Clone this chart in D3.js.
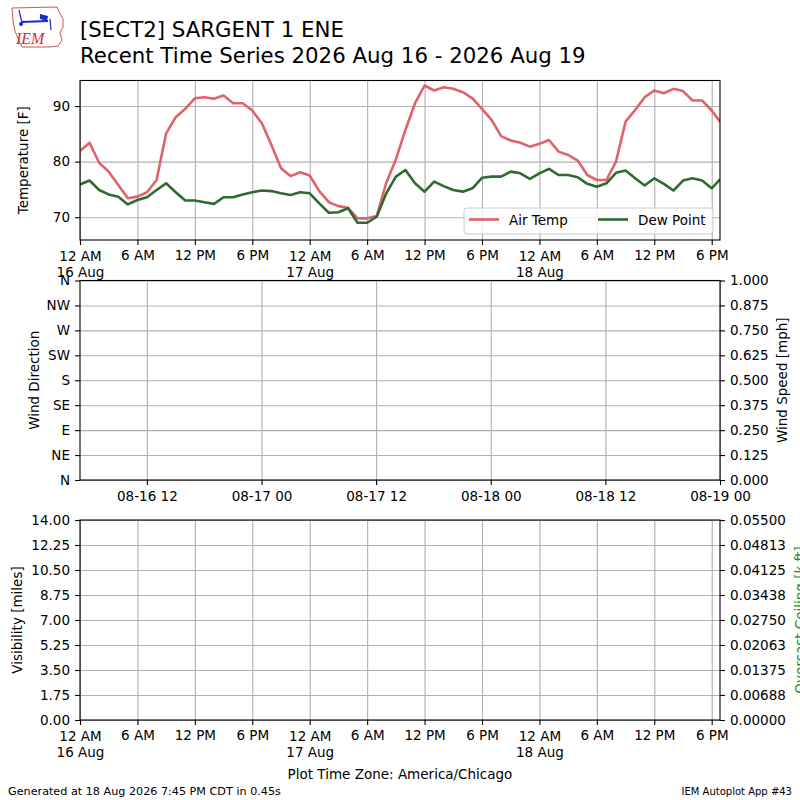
<!DOCTYPE html>
<html>
<head>
<meta charset="utf-8">
<script src="https://cdn.jsdelivr.net/npm/d3@7"></script>
<style>
body { margin: 0; background: #fff; }
svg { font-family: "DejaVu Sans", sans-serif; }
</style>
</head>
<body>
<svg id="chart" width="800" height="800"></svg>
<script>
// hourly obs starting 16 Aug 2026 00:00, last one at 18:52 on 18 Aug
const airTemp = [81.9, 83.4, 79.8, 78.2, 75.8, 73.4, 73.7, 74.5, 76.7, 85.1, 88.0, 89.5,
    91.4, 91.6, 91.3, 91.9, 90.5, 90.5, 89.2, 86.9, 83.0, 78.8, 77.4, 78.1,
    77.5, 74.7, 72.7, 72.0, 71.7, 69.8, 69.8, 70.2, 76.2, 80.4, 85.7, 90.5,
    93.7, 92.8, 93.4, 93.1, 92.5, 91.4, 89.5, 87.5, 84.6, 83.8, 83.4, 82.7,
    83.2, 83.9, 81.8, 81.2, 80.2, 77.6, 76.7, 76.7, 80.0, 87.2, 89.3, 91.6,
    92.8, 92.3, 93.1, 92.7, 91.0, 91.0, 89.2, 87.2];
const dewPoint = [75.9, 76.6, 74.9, 74.1, 73.7, 72.3, 73.1, 73.6, 74.9, 76.1, 74.5, 73.0,
    73.0, 72.7, 72.4, 73.6, 73.6, 74.1, 74.5, 74.8, 74.7, 74.3, 74.0, 74.5,
    74.3, 72.5, 70.8, 70.9, 71.6, 69.0, 69.0, 70.1, 74.3, 77.3, 78.5, 76.1,
    74.6, 76.4, 75.6, 74.9, 74.6, 75.2, 77.1, 77.3, 77.3, 78.2, 77.9, 76.9,
    77.9, 78.7, 77.6, 77.6, 77.2, 76.0, 75.5, 76.1, 78.0, 78.4, 77.0, 75.7,
    77.0, 76.0, 74.8, 76.6, 77.0, 76.6, 75.2, 76.8];
const obsStart = new Date(2026, 7, 16, 0, 0);
const lastObs = new Date(2026, 7, 18, 18, 52);
const tempTicks = [70, 80, 90];
const dirLabels = ["N", "NE", "E", "SE", "S", "SW", "W", "NW", "N"];
const speedTicks = ["0.000", "0.125", "0.250", "0.375", "0.500", "0.625", "0.750", "0.875", "1.000"];
const visTicks = ["0.00", "1.75", "3.50", "5.25", "7.00", "8.75", "10.50", "12.25", "14.00"];
const ceilTicks = ["0.00000", "0.00688", "0.01375", "0.02063", "0.02750", "0.03438", "0.04125", "0.04813", "0.05500"];
const windStart = new Date(2026, 7, 16, 5, 0);
const windEnd = new Date(2026, 7, 19, 0, 0);

const times = airTemp.map((d, i) => i === airTemp.length - 1 ? lastObs : d3.timeHour.offset(obsStart, i));
const obs = times.map((t, i) => ({ t: t, air: airTemp[i], dew: dewPoint[i] }));

const svg = d3.select("#chart");
const FS = 13.5;
const GRID = "#b0b0b0";
const left = 80, right = 720;

// ---------- header ----------
const logo = svg.append("g").attr("class", "logo");
logo.append("path")
    .attr("d", "M12,8 L57,7 L59,12 L63,19 L63,27 L60,33 L62,40 L58,46 L50,47 L22,47 L19,41 L15,31 L13,21 Z")
    .attr("fill", "none").attr("stroke", "#d04040").attr("stroke-width", 0.9);
logo.append("line").attr("x1", 22).attr("y1", 22).attr("x2", 48).attr("y2", 21)
    .attr("stroke", "#1a2ad0").attr("stroke-width", 2);
logo.append("path").attr("d", "M40,14 L48,16 L47,21 L40,19 Z").attr("fill", "#1a2ad0");
logo.append("line").attr("x1", 19).attr("y1", 10).attr("x2", 22).attr("y2", 23)
    .attr("stroke", "#1a2ad0").attr("stroke-width", 1.2);
logo.append("line").attr("x1", 50).attr("y1", 19).attr("x2", 51).attr("y2", 30)
    .attr("stroke", "#1a2ad0").attr("stroke-width", 1.2);
logo.append("circle").attr("cx", 21).attr("cy", 24).attr("r", 2).attr("fill", "#1a2ad0");
logo.append("text").attr("x", 16).attr("y", 44)
    .attr("font-family", "Liberation Serif").attr("font-style", "italic")
    .attr("font-size", 16).attr("fill", "#d03030").text("IEM");

svg.append("text").attr("x", 80).attr("y", 37).attr("font-size", 21.3)
    .text("[SECT2] SARGENT 1 ENE");
svg.append("text").attr("x", 80).attr("y", 63).attr("font-size", 21.3)
    .text("Recent Time Series 2026 Aug 16 - 2026 Aug 19");

// ---------- helpers ----------
const hourFmt = d3.timeFormat("%-I %p"),
    dayFmt = d3.timeFormat("%d %b");

function timeTickLabels(g) {
    g.selectAll(".tick text").each(function (d) {
        const t = d3.select(this);
        t.text(null);
        if (d.getHours() === 0) {
            t.append("tspan").attr("x", 0).attr("dy", "0.71em").attr("y", 11.5).text(hourFmt(d));
            t.append("tspan").attr("x", 0).attr("dy", "1.2em").text(dayFmt(d));
        } else {
            t.append("tspan").attr("x", 0).attr("y", 10).attr("dy", "0.71em").text(hourFmt(d));
        }
    });
}

function styleAxis(g) {
    g.select(".domain").remove();
    g.selectAll(".tick line").attr("stroke", "#000").attr("stroke-width", 1.1);
    g.selectAll(".tick text").attr("font-size", FS).attr("fill", "#000").attr("font-family", "DejaVu Sans");
}

function frame(top, bottom) {
    svg.append("rect").attr("x", left).attr("y", top)
        .attr("width", right - left).attr("height", bottom - top)
        .attr("fill", "none").attr("stroke", "#000").attr("stroke-width", 1.1);
}

function yLabel(text, x, y, color) {
    svg.append("text")
        .attr("transform", `translate(${x}, ${y}) rotate(-90)`)
        .attr("text-anchor", "middle")
        .attr("font-size", FS)
        .attr("fill", color || "#000")
        .text(text);
}

// ---------- panel 1: temperature ----------
const t1 = 80.5, b1 = 240;
const xTime = d3.scaleTime().domain([obsStart, lastObs]).range([left, right]);
const yTemp = d3.scaleLinear().domain([65.9, 94.6]).range([b1, t1]);
const tickTimes = d3.timeHour.every(6).range(obsStart, lastObs);

svg.append("g").attr("transform", `translate(0, ${b1})`)
    .call(d3.axisBottom(xTime).tickValues(tickTimes).tickSize(-(b1 - t1)).tickFormat(""))
    .call(g => g.select(".domain").remove())
    .call(g => g.selectAll(".tick line").attr("stroke", GRID).attr("stroke-width", 1.1));
svg.append("g").attr("transform", `translate(${left}, 0)`)
    .call(d3.axisLeft(yTemp).tickValues(tempTicks).tickSize(-(right - left)).tickFormat(""))
    .call(g => g.select(".domain").remove())
    .call(g => g.selectAll(".tick line").attr("stroke", GRID).attr("stroke-width", 1.1));

svg.append("defs").append("clipPath").attr("id", "clip1")
    .append("rect").attr("x", left).attr("y", t1).attr("width", right - left).attr("height", b1 - t1);

const lineAir = d3.line().x(d => xTime(d.t)).y(d => yTemp(d.air));
const lineDew = d3.line().x(d => xTime(d.t)).y(d => yTemp(d.dew));
const content = svg.append("g").attr("clip-path", "url(#clip1)");
content.append("path").datum(obs).attr("d", lineAir)
    .attr("fill", "none").attr("stroke", "#e0636b").attr("stroke-width", 2.6).attr("stroke-linejoin", "round");
content.append("path").datum(obs).attr("d", lineDew)
    .attr("fill", "none").attr("stroke", "#2f6a30").attr("stroke-width", 2.6).attr("stroke-linejoin", "round");

svg.append("g").attr("transform", `translate(0, ${b1})`)
    .call(d3.axisBottom(xTime).tickValues(tickTimes).tickSize(5))
    .call(styleAxis).call(timeTickLabels);
svg.append("g").attr("transform", `translate(${left}, 0)`)
    .call(d3.axisLeft(yTemp).tickValues(tempTicks).tickSize(5).tickPadding(5))
    .call(styleAxis);
frame(t1, b1);
yLabel("Temperature [F]", 28, (t1 + b1) / 2);

// legend
const leg = svg.append("g").attr("transform", "translate(464, 208)");
leg.append("rect").attr("width", 249).attr("height", 26).attr("rx", 3)
    .attr("fill", "#fff").attr("fill-opacity", 0.8).attr("stroke", "#cccccc");
[["Air Temp", "#e0636b", 5], ["Dew Point", "#2f6a30", 134]].forEach(([name, c, x0]) => {
    leg.append("line").attr("x1", x0).attr("x2", x0 + 30).attr("y1", 11.5).attr("y2", 11.5)
        .attr("stroke", c).attr("stroke-width", 2.6);
    leg.append("text").attr("x", x0 + 40).attr("y", 16.5).attr("font-size", FS).text(name);
});

// ---------- panel 2: wind ----------
const t2 = 280.5, b2 = 480;
const xWind = d3.scaleTime().domain([windStart, windEnd]).range([left, right]);
const yDir = d3.scalePoint().domain(d3.range(dirLabels.length)).range([b2, t2]);
const ySpd = d3.scalePoint().domain(speedTicks).range([b2, t2]);
const windTicks = d3.timeHour.every(12).range(d3.timeHour.offset(windStart, 7), d3.timeHour.offset(windEnd, 1));

svg.append("g").attr("transform", `translate(0, ${b2})`)
    .call(d3.axisBottom(xWind).tickValues(windTicks).tickSize(-(b2 - t2)).tickFormat(""))
    .call(g => g.select(".domain").remove())
    .call(g => g.selectAll(".tick line").attr("stroke", GRID).attr("stroke-width", 1.1));
svg.append("g").attr("transform", `translate(${left}, 0)`)
    .call(d3.axisLeft(yDir).tickSize(-(right - left)).tickFormat(""))
    .call(g => g.select(".domain").remove())
    .call(g => g.selectAll(".tick line").attr("stroke", GRID).attr("stroke-width", 1.1));

svg.append("g").attr("transform", `translate(0, ${b2})`)
    .call(d3.axisBottom(xWind).tickValues(windTicks).tickSize(5).tickPadding(6)
        .tickFormat(d3.timeFormat("%m-%d %H")))
    .call(styleAxis);
svg.append("g").attr("transform", `translate(${left}, 0)`)
    .call(d3.axisLeft(yDir).tickSize(5).tickPadding(5).tickFormat(i => dirLabels[i]))
    .call(styleAxis);
svg.append("g").attr("transform", `translate(${right}, 0)`)
    .call(d3.axisRight(ySpd).tickSize(5).tickPadding(5))
    .call(styleAxis);
frame(t2, b2);
yLabel("Wind Direction", 39, (t2 + b2) / 2);
yLabel("Wind Speed [mph]", 787, (t2 + b2) / 2);

// ---------- panel 3: visibility / ceiling ----------
const t3 = 520, b3 = 720;
const yVis = d3.scalePoint().domain(visTicks).range([b3, t3]);
const yCeil = d3.scalePoint().domain(ceilTicks).range([b3, t3]);

svg.append("g").attr("transform", `translate(0, ${b3})`)
    .call(d3.axisBottom(xTime).tickValues(tickTimes).tickSize(-(b3 - t3)).tickFormat(""))
    .call(g => g.select(".domain").remove())
    .call(g => g.selectAll(".tick line").attr("stroke", GRID).attr("stroke-width", 1.1));
svg.append("g").attr("transform", `translate(${left}, 0)`)
    .call(d3.axisLeft(yVis).tickSize(-(right - left)).tickFormat(""))
    .call(g => g.select(".domain").remove())
    .call(g => g.selectAll(".tick line").attr("stroke", GRID).attr("stroke-width", 1.1));

svg.append("g").attr("transform", `translate(0, ${b3})`)
    .call(d3.axisBottom(xTime).tickValues(tickTimes).tickSize(5))
    .call(styleAxis).call(timeTickLabels);
svg.append("g").attr("transform", `translate(${left}, 0)`)
    .call(d3.axisLeft(yVis).tickSize(5).tickPadding(5))
    .call(styleAxis);
svg.append("g").attr("transform", `translate(${right}, 0)`)
    .call(d3.axisRight(yCeil).tickSize(5).tickPadding(5))
    .call(styleAxis);
frame(t3, b3);
yLabel("Visibility [miles]", 22, (t3 + b3) / 2);
yLabel("Overcast Ceiling [k ft]", 805, (t3 + b3) / 2, "#1a8a1a");

// ---------- footer ----------
svg.append("text").attr("x", 400).attr("y", 779).attr("text-anchor", "middle")
    .attr("font-size", FS).text("Plot Time Zone: America/Chicago");
svg.append("text").attr("x", 8).attr("y", 795).attr("font-size", 11.2)
    .text("Generated at 18 Aug 2026 7:45 PM CDT in 0.45s");
svg.append("text").attr("x", 792).attr("y", 795).attr("text-anchor", "end").attr("font-size", 10)
    .text("IEM Autoplot App #43");
</script>
</body>
</html>
